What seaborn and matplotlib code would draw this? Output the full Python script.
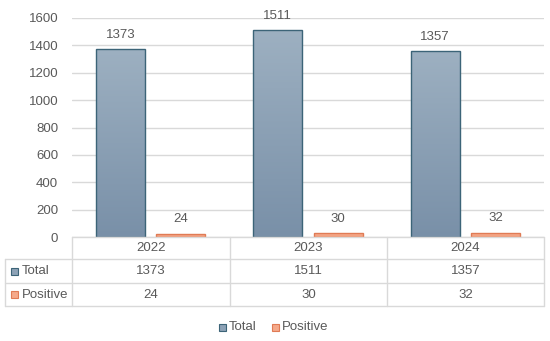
import matplotlib
matplotlib.use("Agg")
import matplotlib.pyplot as plt
import seaborn as sns
import numpy as np
import pandas as pd
from matplotlib.colors import LinearSegmentedColormap

years = ["2022", "2023", "2024"]
series = ["Total", "Positive"]
total = [1373, 1511, 1357]
positive = [24, 30, 32]
yticks = [0, 200, 400, 600, 800, 1000, 1200, 1400, 1600]

df = pd.DataFrame({
    "year": years * 2,
    "series": ["Total"] * 3 + ["Positive"] * 3,
    "value": total + positive,
})

sns.set_theme(style="white")
plt.rcParams["font.family"] = ["Liberation Sans", "DejaVu Sans"]
TXT = "#595959"
GRID = "#D9D9D9"
FS = 9.5

W, H = 550, 341
fig = plt.figure(figsize=(W / 100, H / 100), dpi=100)
ax = fig.add_axes([72 / W, 1 - 237 / H, (544 - 72) / W, (237 - 18) / H])

edge = {"Total": "#3C6478", "Positive": "#E07B55"}
fillc = {"Total": "#8DA2B6", "Positive": "#F5A98A"}
sns.barplot(data=df, x="year", y="value", hue="series", order=years,
            hue_order=series, palette=fillc, width=0.77, ax=ax,
            legend=False, saturation=1)

ax.set_ylim(0, 1600)
ax.set_yticks(yticks)
ax.set_yticklabels([str(t) for t in yticks], color=TXT, fontsize=FS)
ax.tick_params(axis="y", length=0, pad=10)
ax.set_xticks([])
ax.set_xlabel("")
ax.set_ylabel("")
ax.grid(axis="y", color=GRID, lw=1)
ax.set_axisbelow(True)
for s in ax.spines.values():
    s.set_visible(False)

grads = {
    "Total": LinearSegmentedColormap.from_list("t", ["#7990A8", "#9DB0C1"]),
    "Positive": LinearSegmentedColormap.from_list("p", ["#F39B78", "#F8B89C"]),
}
vals = {"Total": total, "Positive": positive}
BW = 0.311
for cont, name in zip(ax.containers, series):
    for bar, v in zip(cont, vals[name]):
        cx = bar.get_x() + bar.get_width() / 2
        bar.set_x(cx - BW / 2)
        bar.set_width(BW)
        bar.set_edgecolor(edge[name])
        bar.set_linewidth(1.0)
        x0, y0 = bar.get_x(), bar.get_y()
        w, h = bar.get_width(), bar.get_height()
        grad = np.linspace(0, 1, 256).reshape(-1, 1)
        im = ax.imshow(grad, cmap=grads[name], aspect="auto", origin="lower",
                       extent=[x0, x0 + w, y0, y0 + h], zorder=bar.get_zorder() - 0.01)
        im.set_clip_path(bar)
        bar.set_facecolor("none")
        ax.annotate(str(v), (x0 + w / 2, y0 + h), xytext=(0, 6),
                    textcoords="offset points", ha="center", va="bottom",
                    color=TXT, fontsize=FS)
ax.set_xlim(-0.5, 2.5)
ax.set_ylim(0, 1600)

# data table overlay in pixel coordinates
tx = fig.add_axes([0, 0, 1, 1], facecolor="none")
tx.set_xlim(0, W)
tx.set_ylim(H, 0)
tx.axis("off")
lw = 1
tx.plot([72, 544], [237, 237], color=GRID, lw=lw)
for yy in [259, 283, 306]:
    tx.plot([5, 544], [yy, yy], color=GRID, lw=lw)
tx.plot([5, 5], [259, 306], color=GRID, lw=lw)
for xx in [72, 230, 387, 544]:
    tx.plot([xx, xx], [237, 306], color=GRID, lw=lw)
cols = [151, 308.5, 465.5]
for cx, yr, t, p in zip(cols, years, total, positive):
    tx.text(cx, 248, yr, ha="center", va="center", color=TXT, fontsize=FS)
    tx.text(cx, 271, str(t), ha="center", va="center", color=TXT, fontsize=FS)
    tx.text(cx, 294.5, str(p), ha="center", va="center", color=TXT, fontsize=FS)

def key(x, y, name):
    tx.add_patch(plt.Rectangle((x, y - 3.5), 7, 7, facecolor=fillc[name],
                               edgecolor=edge[name], lw=0.8))

key(11, 271, "Total")
tx.text(22, 271, "Total", ha="left", va="center", color=TXT, fontsize=FS)
key(11, 294.5, "Positive")
tx.text(22, 294.5, "Positive", ha="left", va="center", color=TXT, fontsize=FS)

key(219, 327, "Total")
tx.text(229, 327, "Total", ha="left", va="center", color=TXT, fontsize=FS)
key(272, 327, "Positive")
tx.text(282, 327, "Positive", ha="left", va="center", color=TXT, fontsize=FS)

fig.savefig("out.png", dpi=100)
